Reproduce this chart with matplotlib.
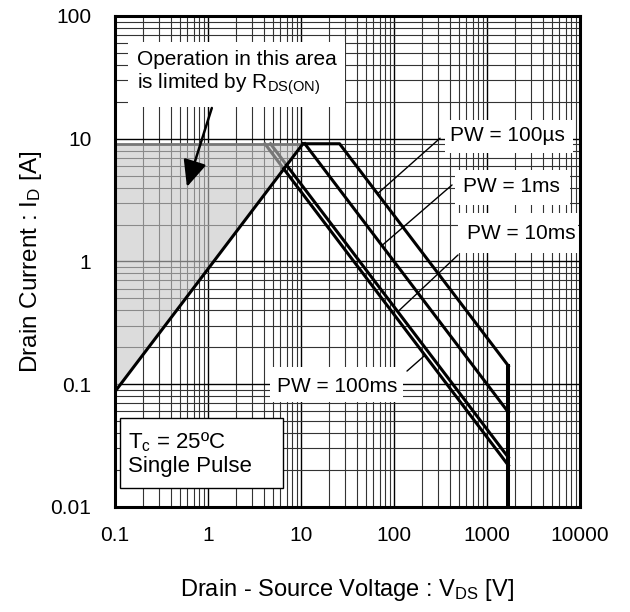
import matplotlib
matplotlib.use('Agg')
import matplotlib.pyplot as plt
from matplotlib.patches import Rectangle

plt.rcParams['font.family'] = ['Liberation Sans', 'DejaVu Sans']
plt.rcParams['mathtext.fontset'] = 'custom'
plt.rcParams['mathtext.rm'] = 'Liberation Sans'
plt.rcParams['mathtext.it'] = 'Liberation Sans:italic'

# safe operating area, corner points of each limit curve (V, A)
i_max = 9.1
v_rds = [0.1, 10.5]
i_rds = [0.087, 9.1]

v_pw100us = [10.5, 26, 1700, 1700]
i_pw100us = [9.1, 9.1, 0.141, 0.01]
v_pw1ms = [11, 1700]
i_pw1ms = [9.1, 0.059]
v_pw10ms = [4.7, 7.0, 1700]
i_pw10ms = [9.1, 6.1, 0.0253]
v_pw100ms = [4.1, 6.5, 1700]
i_pw100ms = [9.1, 5.7, 0.0218]

x_ticks = [0.1, 1, 10, 100, 1000, 10000]
x_ticklabels = ['0.1', '1', '10', '100', '1000', '10000']
y_ticks = [0.01, 0.1, 1, 10, 100]
y_ticklabels = ['0.01', '0.1', '1', '10', '100']

fig = plt.figure(figsize=(6.3, 6.12), dpi=100)
ax = fig.add_axes([0.1825, 0.1716, 0.7381, 0.8023])
ax.set_xscale('log')
ax.set_yscale('log')
ax.set_xlim(0.1, 10000)
ax.set_ylim(0.01, 100)

ax.grid(True, which='major', color='black', lw=1.0, zorder=0)
ax.grid(True, which='minor', color='#333333', lw=0.8, zorder=0)
ax.set_axisbelow(True)

ax.set_xticks(x_ticks)
ax.set_xticklabels(x_ticklabels)
ax.set_yticks(y_ticks)
ax.set_yticklabels(y_ticklabels)
ax.tick_params(which='both', length=0)
ax.tick_params(axis='x', labelsize=15, pad=14)
ax.tick_params(axis='y', labelsize=15, pad=17)
for s in ax.spines.values():
    s.set_linewidth(2.2)
    s.set_zorder(10)

# R_DS(on) limited region
ax.fill([v_rds[0], v_rds[0], v_rds[1]], [i_rds[0], i_max, i_max],
        color='#c6c6c6', alpha=0.6, lw=0, zorder=1)
gray = '#777777'
ax.plot([v_rds[0], v_rds[0], v_rds[1]], [i_rds[0], i_max, i_max], color=gray, lw=2, zorder=2)
ax.plot(v_pw10ms[:2], i_pw10ms[:2], color=gray, lw=2.2, zorder=2)
ax.plot(v_pw100ms[:2], i_pw100ms[:2], color=gray, lw=2.2, zorder=2)

ax.plot(v_rds, i_rds, color='black', lw=2.2, zorder=4)
ax.plot(v_pw100us[:3], i_pw100us[:3], color='black', lw=2.2, zorder=4)
ax.plot(v_pw100us[2:], i_pw100us[2:], color='black', lw=2.9, zorder=4)
ax.plot(v_pw1ms, i_pw1ms, color='black', lw=2.2, zorder=4)
ax.plot(v_pw10ms[1:], i_pw10ms[1:], color='black', lw=2.2, zorder=4)
ax.plot(v_pw100ms[1:], i_pw100ms[1:], color='black', lw=2.2, zorder=4)

# white label backgrounds (axes fraction)
def patch(x0, y0, x1, y1, edge='none'):
    ax.add_patch(Rectangle((x0, y0), x1 - x0, y1 - y0, transform=ax.transAxes,
                           facecolor='white', edgecolor=edge, lw=1, zorder=3))

patch(0.028, 0.814, 0.495, 0.947)
patch(0.710, 0.721, 0.985, 0.788)
patch(0.731, 0.615, 0.978, 0.686)
patch(0.738, 0.517, 0.995, 0.599)
patch(0.333, 0.214, 0.619, 0.285)
patch(0.011, 0.039, 0.361, 0.181, edge='black')

ax.text(0.047, 0.882, 'Operation in this area\nis limited by R$_{\\mathrm{DS(ON)}}$',
        transform=ax.transAxes, fontsize=15, va='center', ha='left',
        linespacing=1.15, zorder=5)
ax.text(0.843, 0.756, 'PW = 100µs', transform=ax.transAxes, fontsize=15,
        ha='center', va='center', zorder=5)
ax.text(0.852, 0.652, 'PW = 1ms', transform=ax.transAxes, fontsize=15,
        ha='center', va='center', zorder=5)
ax.text(0.873, 0.556, 'PW = 10ms', transform=ax.transAxes, fontsize=15,
        ha='center', va='center', zorder=5)
ax.text(0.477, 0.246, 'PW = 100ms', transform=ax.transAxes, fontsize=15,
        ha='center', va='center', zorder=5)
ax.text(0.028, 0.108, 'T$_{\\mathrm{c}}$ = 25ºC\nSingle Pulse', transform=ax.transAxes,
        fontsize=16, ha='left', va='center', linespacing=1.1, zorder=5)

# leader lines to each curve
leaders = [((313, 10.1), (67, 3.58)),
           ((421, 4.2), (74.3, 1.35)),
           ((488, 1.13), (110, 0.39)),
           ((138, 0.128), (215, 0.172))]
for start, end in leaders:
    ax.annotate('', xy=end, xytext=start,
                arrowprops=dict(arrowstyle='-', color='black', lw=1.0,
                                shrinkA=0, shrinkB=0), zorder=5)

ax.annotate('', xy=(0.594, 4.05), xytext=(1.10, 17.8),
            arrowprops=dict(arrowstyle='-|>,head_length=0.9,head_width=0.4',
                            color='black', lw=1.8, shrinkA=0, shrinkB=0,
                            mutation_scale=18), zorder=5)

ax.set_xlabel('Drain - Source Voltage : V$_{\\mathrm{DS}}$ [V]', fontsize=17, labelpad=23)
ax.set_ylabel('Drain Current : I$_{\\mathrm{D}}$ [A]', fontsize=17.5, labelpad=5)

fig.savefig('out.png', dpi=100)
